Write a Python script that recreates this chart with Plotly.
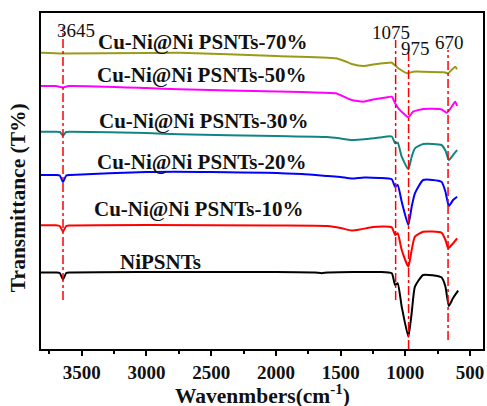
import plotly.graph_objects as go

# ---- data (wavenumber cm-1, transmittance in arbitrary offset units) ----
wn_black = [3815, 3700, 3670, 3645, 3620, 3590, 3000, 2000, 1700, 1646, 1600, 1200, 1105, 1079, 1059, 1028, 977, 951, 926, 862, 721, 690, 664, 631, 592]
t_black = [76.5, 76.5, 76, 69.5, 76, 76.5, 77, 77, 76.5, 75.8, 76.5, 77, 75.7, 64, 65.7, 42.3, 12.3, 36, 62.3, 74, 71.7, 62.3, 43, 51, 58.3]

wn_red = [3815, 3700, 3670, 3645, 3620, 3590, 3000, 2000, 1600, 1500, 1415, 1350, 1250, 1105, 1079, 1059, 1028, 977, 951, 926, 862, 721, 690, 669, 631, 600]
t_red = [123.7, 123.7, 123, 117.3, 123, 123.5, 124, 123.5, 123, 121, 118.5, 119.5, 122, 121.7, 114, 115.7, 99, 82.3, 99, 112.3, 117.3, 116.3, 109, 100.7, 105.7, 110.7]

wn_blue = [3815, 3700, 3670, 3645, 3620, 3590, 3000, 2500, 1800, 1600, 1500, 1415, 1320, 1200, 1105, 1079, 1059, 1028, 977, 951, 926, 862, 721, 690, 664, 631, 600]
t_blue = [174, 174, 173.5, 167, 173.5, 174, 177, 177, 175, 173, 172, 170.5, 171.5, 171, 169.7, 162.3, 164, 147.3, 124, 142.3, 155.7, 169, 167.3, 157.3, 143, 149, 152.3]

wn_teal = [3815, 3700, 3670, 3645, 3620, 3590, 3000, 2746, 2000, 1600, 1500, 1415, 1300, 1200, 1105, 1079, 1059, 1028, 977, 951, 926, 862, 721, 690, 664, 631, 600]
t_teal = [217.3, 217.3, 217, 213.5, 217, 217.3, 216, 214.7, 213, 212, 210.5, 209, 210, 211.5, 212.5, 205.7, 206.3, 192.3, 179.7, 192.3, 200.7, 205, 204, 198.3, 189, 194, 199]

wn_mag = [3815, 3700, 3645, 3600, 3000, 2746, 1800, 1538, 1470, 1415, 1323, 1250, 1150, 1105, 1079, 1054, 977, 940, 862, 723, 680, 650, 615, 600]
t_mag = [263, 263, 261.5, 263, 261, 259.7, 257, 255.7, 252, 249, 247.3, 249.5, 251.5, 252.3, 245.7, 240.7, 231.7, 237.3, 240, 239.7, 236.3, 240.7, 247.3, 243]

wn_olive = [3815, 3645, 3000, 2746, 2000, 1538, 1470, 1415, 1323, 1250, 1150, 1105, 1054, 985, 940, 862, 700, 670, 615, 600]
t_olive = [296.3, 295.5, 296, 296.3, 293, 290.7, 288, 285, 283, 284.5, 286, 286.3, 280.7, 275.7, 277.3, 277.3, 276.7, 275.7, 282.3, 279.7]

series_names = ["NiPSNTs", "Cu-Ni@Ni PSNTs-10%", "Cu-Ni@Ni PSNTs-20%", "Cu-Ni@Ni PSNTs-30%",
                "Cu-Ni@Ni PSNTs-50%", "Cu-Ni@Ni PSNTs-70%"]
series_colors = ["#000000", "#ff0000", "#0000ff", "#138484", "#ff00ff", "#9a9a1a"]
label_x = [2892, 2592, 2569, 2558, 2569, 2562]
label_y = [87, 140, 187, 228, 274, 307]

peak_pos = [3645, 1075, 975, 670]
peak_text = ["3645", "1075", "975", "670"]
peak_label_x = [3546, 1108, 923, 662]
peak_label_y = [319, 317, 301, 307]
peak_line_y0 = [49, 49, 0, 9]
peak_line_y1 = [322, 309, 299, 299]

xs = [wn_black, wn_red, wn_blue, wn_teal, wn_mag, wn_olive]
ys = [t_black, t_red, t_blue, t_teal, t_mag, t_olive]

SERIF = "Liberation Serif, Times New Roman, serif"

fig = go.Figure()
for x, y, c, n in zip(xs, ys, series_colors, series_names):
    fig.add_trace(go.Scatter(x=x, y=y, mode="lines", name=n,
                             line=dict(color=c, width=2, shape="spline", smoothing=0.5),
                             showlegend=False))

for p, y0, y1 in zip(peak_pos, peak_line_y0, peak_line_y1):
    fig.add_shape(type="line", x0=p, x1=p, y0=y0, y1=y1, xref="x", yref="y",
                  line=dict(color="#ff0000", width=1.5, dash="dashdot"))

for n, lx, ly in zip(series_names, label_x, label_y):
    fig.add_annotation(x=lx, y=ly, text="<b>%s</b>" % n, showarrow=False,
                       font=dict(family=SERIF, size=21, color="#111111"),
                       xanchor="center", yanchor="middle")

for t, lx, ly in zip(peak_text, peak_label_x, peak_label_y):
    fig.add_annotation(x=lx, y=ly, text=t, showarrow=False,
                       font=dict(family=SERIF, size=19, color="#111111"),
                       xanchor="center", yanchor="middle")

fig.add_annotation(x=0.502, xref="paper", y=-0.134, yref="paper",
                   text="<b>Wavenmbers(cm<sup>-1</sup>)</b>", showarrow=False,
                   font=dict(family=SERIF, size=21.5, color="#111111"),
                   xanchor="center", yanchor="middle")
fig.add_annotation(x=-0.052, xref="paper", y=0.449, yref="paper",
                   text="<b>Transmittance (T%)</b>", showarrow=False, textangle=-90,
                   font=dict(family=SERIF, size=21.5, color="#111111"),
                   xanchor="center", yanchor="middle")

fig.update_layout(
    width=487, height=406,
    margin=dict(l=41, r=2, t=13, b=57),
    paper_bgcolor="white", plot_bgcolor="white",
    xaxis=dict(range=[3815, 400], showgrid=False, zeroline=False,
               showline=True, linecolor="black", linewidth=2, mirror=True,
               ticks="outside", ticklen=5, tickwidth=1.5, tickcolor="black",
               tick0=500, dtick=500,
               minor=dict(dtick=250, tick0=500, ticks="outside", ticklen=3, tickcolor="black"),
               tickfont=dict(family=SERIF, size=19, color="#111111"),
               tickprefix="<b>", ticksuffix="</b>"),
    yaxis=dict(range=[0, 336], showgrid=False, zeroline=False,
               showline=True, linecolor="black", linewidth=2, mirror=True,
               showticklabels=False, ticks=""),
)

fig.write_html("out.html")
